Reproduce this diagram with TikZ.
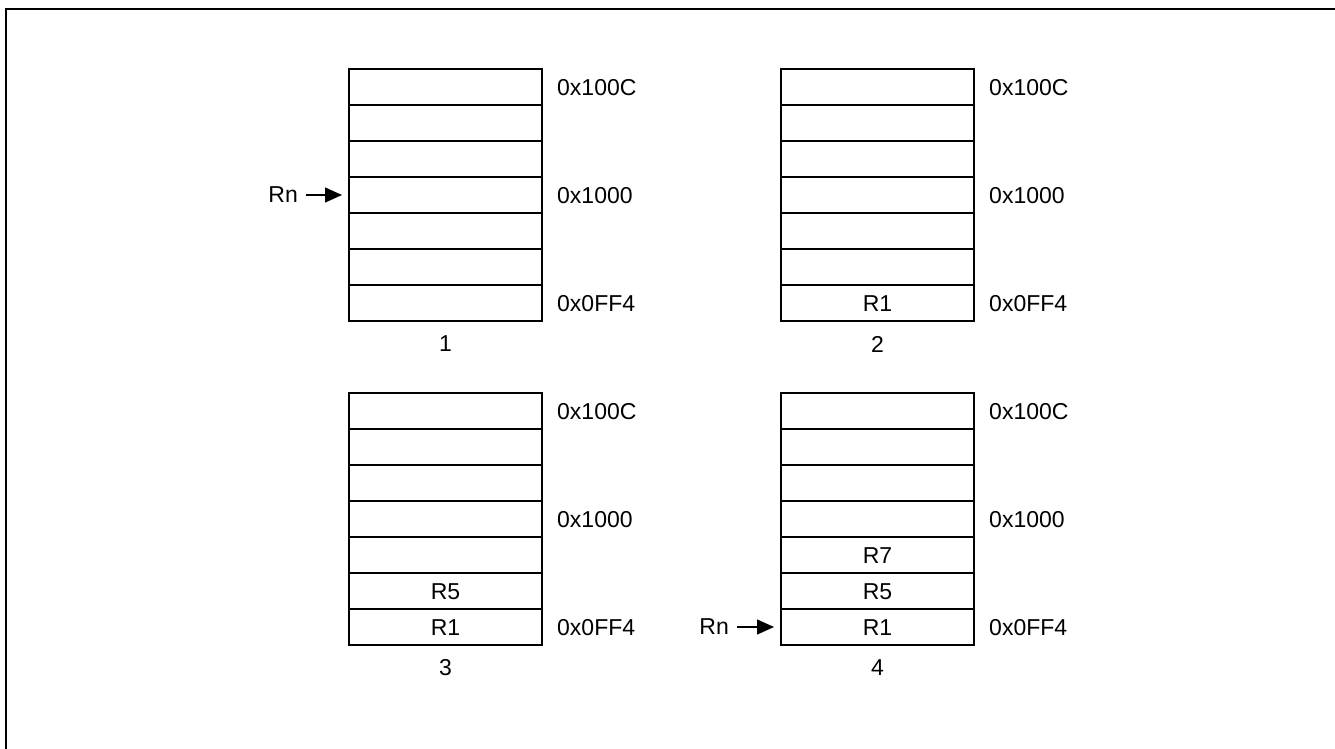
\documentclass[tikz,border=0pt]{standalone}
\usepackage{fontspec}
\setmainfont{Liberation Sans}
\usetikzlibrary{arrows.meta}
\begin{document}
\begin{tikzpicture}[x=1pt,y=-1pt,font=\fontsize{23}{27}\selectfont,
  cell/.style={draw,line width=1.2pt,minimum width=193pt,minimum height=36pt,inner sep=0pt,outer sep=0pt,anchor=north west},
  addr/.style={anchor=west,inner sep=0pt},
  num/.style={inner sep=0pt},
  val/.style={inner sep=0pt,yshift=-1pt},
  rnlabel/.style={anchor=east,inner sep=0pt},
  ptr/.style={-{Triangle[length=17pt,width=15pt]},line width=1.2pt,shorten <=8pt,shorten >=7pt}]
\useasboundingbox (0,0) rectangle (1335,749);
\draw[line width=2pt] (6,749) -- (6,9) -- (1335,9);
\foreach \b/\x/\y in {1/349/69,2/781/69,3/349/393,4/781/393}{
  \foreach \i in {1,...,7}{
    \node[cell] (b\b-\i) at (\x,{\y+36*(\i-1)}) {};
  }
  \node[addr] (a\b-top) at ([xshift=15pt,yshift=-1pt]b\b-1.east) {0x100C};
  \node[addr] (a\b-mid) at ([xshift=15pt,yshift=-1pt]b\b-4.east) {0x1000};
  \node[addr] (a\b-bot) at ([xshift=15pt,yshift=-1pt]b\b-7.east) {0x0FF4};
  \node[num] (n\b) at ([yshift=-23pt]b\b-7.south) {\b};
}
\node[val] (v2-7) at (b2-7) {R1};
\node[val] (v3-6) at (b3-6) {R5};
\node[val] (v3-7) at (b3-7) {R1};
\node[val] (v4-5) at (b4-5) {R7};
\node[val] (v4-6) at (b4-6) {R5};
\node[val] (v4-7) at (b4-7) {R1};
\node[rnlabel] (rn1) at ([xshift=-51pt]b1-4.west) {Rn};
\node[rnlabel] (rn4) at ([xshift=-52pt]b4-7.west) {Rn};
\draw[ptr] (rn1.east) -- (b1-4.west);
\draw[ptr] (rn4.east) -- (b4-7.west);
\end{tikzpicture}
\end{document}
